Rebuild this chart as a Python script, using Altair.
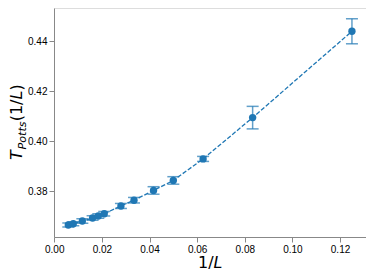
import altair as alt
import pandas as pd

inv_L = [0.0059, 0.0080, 0.0118, 0.0161, 0.0185, 0.0210, 0.0280, 0.0335,
         0.0417, 0.0500, 0.0625, 0.0833, 0.1250]
T_potts = [0.3666, 0.3671, 0.3682, 0.3694, 0.3702, 0.3711, 0.3742, 0.3765,
           0.3804, 0.3844, 0.3930, 0.4095, 0.4440]
T_err = [0.0008, 0.0008, 0.0009, 0.0009, 0.0009, 0.0009, 0.0010, 0.0011,
         0.0015, 0.0015, 0.0010, 0.0045, 0.0050]
x_ticks = [0.00, 0.02, 0.04, 0.06, 0.08, 0.10, 0.12]
y_ticks = [0.38, 0.40, 0.42, 0.44]

df = pd.DataFrame({"x": inv_L, "y": T_potts, "e": T_err})
df["lo"] = df["y"] - df["e"]
df["hi"] = df["y"] + df["e"]

BLUE = "#1f77b4"
FONT = "DejaVu Sans"

xs = alt.Scale(domain=[-0.0001, 0.1309], zero=False, nice=False)
ys = alt.Scale(domain=[0.3618, 0.4533], zero=False, nice=False)
X = alt.X("x:Q", scale=xs,
          axis=alt.Axis(values=x_ticks, format=".2f", title=None, labelFlush=False, grid=False))
Y = alt.Y("y:Q", scale=ys,
          axis=alt.Axis(values=y_ticks, format=".2f", title=None, grid=False))

base = alt.Chart(df)
bars = base.mark_rule(color=BLUE, opacity=0.7, strokeWidth=1.5).encode(
    x=X, y=alt.Y("lo:Q", scale=ys), y2="hi:Q")
cap_lo = base.mark_tick(color=BLUE, opacity=0.7, orient="horizontal", size=12, thickness=1.5).encode(
    x=X, y=alt.Y("lo:Q", scale=ys))
cap_hi = base.mark_tick(color=BLUE, opacity=0.7, orient="horizontal", size=12, thickness=1.5).encode(
    x=X, y=alt.Y("hi:Q", scale=ys))
line = base.mark_line(color=BLUE, strokeWidth=1.3, strokeDash=[4.4, 1.9]).encode(x=X, y=Y, order="x:Q")
pts = base.mark_point(color=BLUE, filled=True, opacity=1, size=54, shape="circle").encode(x=X, y=Y)


def label(text, x, y, size, italic=False, angle=0):
    return alt.Chart(alt.Data(values=[{}])).mark_text(
        text=text, font=FONT, fontSize=size,
        fontStyle="italic" if italic else "normal",
        align="left", baseline="alphabetic", angle=angle, color="black",
    ).encode(x=alt.value(x), y=alt.value(y))


labels = [
    label("1/", 144, 260, 16),
    label("L", 159.6, 260, 16, italic=True),
    label("T", -32, 152, 16, italic=True, angle=270),
    label("Potts", -28.5, 141.5, 11.2, italic=True, angle=270),
    label("(1/", -32, 113.3, 16, angle=270),
    label("L", -32, 91.5, 16, italic=True, angle=270),
    label(")", -32, 82.6, 16, angle=270),
]

chart = alt.layer(bars, cap_lo, cap_hi, line, pts, *labels).properties(
    width=312, height=229,
    autosize=alt.AutoSizeParams(type="none"),
    padding={"left": 46, "top": 0, "right": 0, "bottom": 35},
).configure_view(
    stroke="black", strokeWidth=1
).configure_axis(
    domain=False, tickColor="black", tickSize=3, tickWidth=0.8,
    labelFont=FONT, labelFontSize=8, labelColor="black", labelPadding=2.5,
).configure(background="white")

chart.save("out.html", embed_options={"renderer": "svg", "actions": False})
